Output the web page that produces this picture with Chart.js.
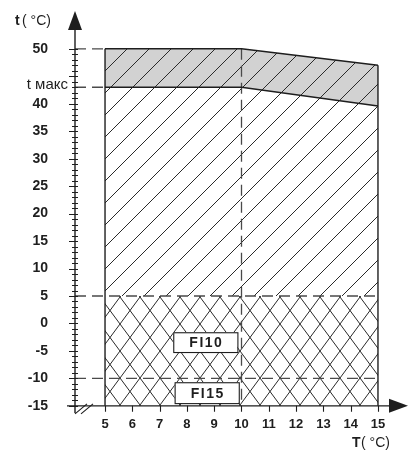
<!DOCTYPE html>
<html>
<head>
<meta charset="utf-8">
<script src="https://cdn.jsdelivr.net/npm/chart.js@4.4.0/dist/chart.umd.min.js"></script>
<style>
  html, body { margin: 0; padding: 0; background: #fff; }
  #wrap { width: 409px; height: 451px; position: relative; }
</style>
</head>
<body>
<div id="wrap"><canvas id="chart"></canvas></div>
<script>
// outdoor temperature T and limits of t
const T = [5, 10, 15];
const tTop = [50, 50, 47];
const tMax = [43, 43, 39.6];
const tMid = [5, 5, 5];
const tMin = [-15, -15, -15];

const xTicks = [5, 6, 7, 8, 9, 10, 11, 12, 13, 14, 15];
const yTicks = [50, 40, 35, 30, 25, 20, 15, 10, 5, 0, -5, -10, -15];
const dashLevels = [50, 43, 5, -10];
const dashEnds = [5, 5, 15, 15];
const dashT = 10;
const boxLabels = ['FI10', 'FI15'];

const X_MIN = 3.9, X_MAX = 16.1, Y_MIN = -16.3, Y_MAX = 56.7;
const INK = '#1e1e1e';

function makePattern(w, h, bg, draw) {
  const c = document.createElement('canvas');
  const r = window.devicePixelRatio || 1;
  c.width = w * r; c.height = h * r;
  const g = c.getContext('2d');
  g.scale(r, r);
  if (bg) { g.fillStyle = bg; g.fillRect(0, 0, w, h); }
  g.strokeStyle = '#2a2a2a';
  g.lineWidth = 1;
  draw(g, w, h);
  const p = g.createPattern(c, 'repeat');
  if (r !== 1 && p.setTransform) p.setTransform(new DOMMatrix().scale(1 / r));
  return p;
}

function diag(g, w, h) {
  g.beginPath();
  g.moveTo(-2, h + 2); g.lineTo(w + 2, -2);
  g.moveTo(-2, 2); g.lineTo(2, -2);
  g.moveTo(w - 2, h + 2); g.lineTo(w + 2, h - 2);
  g.stroke();
}
function cross(g, w, h) {
  g.beginPath();
  g.moveTo(-w * 0.1, -h * 0.1); g.lineTo(w * 1.1, h * 1.1);
  g.moveTo(w * 1.1, -h * 0.1); g.lineTo(-w * 0.1, h * 1.1);
  g.stroke();
}

const grayHatch = makePattern(22, 22, '#d2d2d2', diag);
const whiteHatch = makePattern(22, 22, '#ffffff', diag);
const crossHatch = makePattern(20, 27, '#ffffff', cross);

const pts = (ys) => T.map((t, i) => ({ x: t, y: ys[i] }));

const datasets = [
  { data: pts(tTop), fill: '+1', backgroundColor: grayHatch, borderColor: INK, borderWidth: 1.4 },
  { data: pts(tMax), fill: '+1', backgroundColor: whiteHatch, borderColor: INK, borderWidth: 1.4 },
  { data: pts(tMid), fill: '+1', backgroundColor: crossHatch, borderWidth: 0 },
  { data: pts(tMin), fill: false, borderWidth: 0 },
  // side borders
  { data: [{ x: T[0], y: tMin[0] }, { x: T[0], y: tTop[0] }], borderColor: INK, borderWidth: 1.4 },
  { data: [{ x: T[2], y: tMin[2] }, { x: T[2], y: tTop[2] }], borderColor: INK, borderWidth: 1.4 }
];
dashLevels.forEach((lv, i) => {
  datasets.push({ data: [{ x: X_MIN, y: lv }, { x: dashEnds[i], y: lv }],
    borderColor: '#4a4a4a', borderWidth: 1.3, borderDash: [11, 6] });
});
datasets.push({ data: [{ x: dashT, y: tTop[1] }, { x: dashT, y: tMin[1] }],
  borderColor: '#4a4a4a', borderWidth: 1.3, borderDash: [11, 6] });
datasets.forEach(d => { d.pointRadius = 0; d.tension = 0; });

const axesPlugin = {
  id: 'axesPlugin',
  afterDatasetsDraw(chart) {
    const { ctx, scales: { x, y } } = chart;
    const ax = x.getPixelForValue(X_MIN);
    const ay = y.getPixelForValue(-15);
    ctx.save();
    ctx.strokeStyle = INK; ctx.fillStyle = INK; ctx.lineWidth = 1.4;
    // axes
    ctx.beginPath();
    ctx.moveTo(ax, y.getPixelForValue(Y_MIN)); ctx.lineTo(ax, 26);
    ctx.moveTo(ax - 8, ay); ctx.lineTo(x.getPixelForValue(X_MAX) - 14, ay);
    ctx.stroke();
    ctx.beginPath();
    ctx.moveTo(ax, 11); ctx.lineTo(ax - 7, 30); ctx.lineTo(ax + 7, 30); ctx.closePath(); ctx.fill();
    const xr = x.getPixelForValue(X_MAX);
    ctx.beginPath();
    ctx.moveTo(xr, ay); ctx.lineTo(xr - 19, ay - 7); ctx.lineTo(xr - 19, ay + 7); ctx.closePath(); ctx.fill();
    // y ticks every degree
    ctx.lineWidth = 1.1;
    ctx.beginPath();
    for (let v = -15; v <= 50; v++) {
      const py = Math.round(y.getPixelForValue(v)) + 0.5;
      ctx.moveTo(ax - (v % 5 === 0 ? 6 : 3), py); ctx.lineTo(ax + 3, py);
    }
    xTicks.forEach(v => {
      const px = Math.round(x.getPixelForValue(v)) + 0.5;
      ctx.moveTo(px, ay); ctx.lineTo(px, ay + 6);
    });
    ctx.stroke();
    // break marks
    ctx.beginPath();
    ctx.moveTo(ax, ay + 8); ctx.lineTo(ax + 12, ay - 2);
    ctx.moveTo(ax + 6, ay + 8); ctx.lineTo(ax + 18, ay - 2);
    ctx.stroke();
    // boxes
    ctx.font = 'bold 14px "Liberation Sans", Arial, sans-serif';
    ctx.letterSpacing = '1.5px';
    ctx.textAlign = 'center'; ctx.textBaseline = 'middle';
    const boxes = [[7.5, 9.85, -1.6, -5.2], [7.55, 9.9, -10.7, -14.5]];
    boxLabels.forEach((lab, i) => {
      const [x0, x1, y0, y1] = boxes[i];
      const l = x.getPixelForValue(x0), r = x.getPixelForValue(x1);
      const t = y.getPixelForValue(y0), b = y.getPixelForValue(y1);
      ctx.fillStyle = '#fff';
      ctx.fillRect(l, t, r - l, b - t);
      ctx.strokeRect(l + 0.5, t + 0.5, r - l, b - t);
      ctx.fillStyle = INK;
      ctx.fillText(lab, (l + r) / 2 + 1, (t + b) / 2 + 1);
    });
    ctx.letterSpacing = '0px';
    // texts
    ctx.textAlign = 'right'; ctx.textBaseline = 'middle';
    ctx.font = '15px "Liberation Sans", Arial, sans-serif';
    ctx.fillText('t макс', ax - 7, y.getPixelForValue(tMax[0]) - 2);
    ctx.textAlign = 'left'; ctx.textBaseline = 'alphabetic';
    ctx.font = 'bold 14px "Liberation Sans", Arial, sans-serif';
    ctx.fillText('t', 15, 25);
    ctx.font = '14px "Liberation Sans", Arial, sans-serif';
    ctx.fillText('( °C)', 22, 25);
    ctx.font = 'bold 14px "Liberation Sans", Arial, sans-serif';
    ctx.fillText('T', 352, 447);
    ctx.font = '14px "Liberation Sans", Arial, sans-serif';
    ctx.fillText('( °C)', 361, 447);
    ctx.restore();
  }
};

new Chart(document.getElementById('chart'), {
  type: 'line',
  data: { datasets },
  options: {
    responsive: true,
    maintainAspectRatio: false,
    animation: false,
    layout: { padding: { top: 12, right: 1, left: 0, bottom: 0 } },
    plugins: {
      legend: { display: false },
      tooltip: { enabled: false },
      filler: { drawTime: 'beforeDatasetsDraw' }
    },
    scales: {
      x: {
        type: 'linear', min: X_MIN, max: X_MAX,
        afterBuildTicks: (s) => { s.ticks = xTicks.map(v => ({ value: v })); },
        afterFit: (s) => { s.height = 38; s.paddingLeft = 0; s.paddingRight = 0; },
        grid: { display: false, drawTicks: false },
        border: { display: false },
        ticks: { padding: 4, color: INK, maxRotation: 0, autoSkip: false,
          font: { family: '"Liberation Sans", Arial, sans-serif', size: 13, weight: 'bold' } }
      },
      y: {
        type: 'linear', min: Y_MIN, max: Y_MAX,
        afterBuildTicks: (s) => { s.ticks = yTicks.map(v => ({ value: v })); },
        afterFit: (s) => { s.width = 75; s.paddingTop = 0; s.paddingBottom = 0; },
        grid: { display: false, drawTicks: false },
        border: { display: false },
        ticks: { padding: 27, color: INK, autoSkip: false,
          font: { family: '"Liberation Sans", Arial, sans-serif', size: 14, weight: 'bold' } }
      }
    }
  },
  plugins: [axesPlugin]
});
</script>
</body>
</html>
